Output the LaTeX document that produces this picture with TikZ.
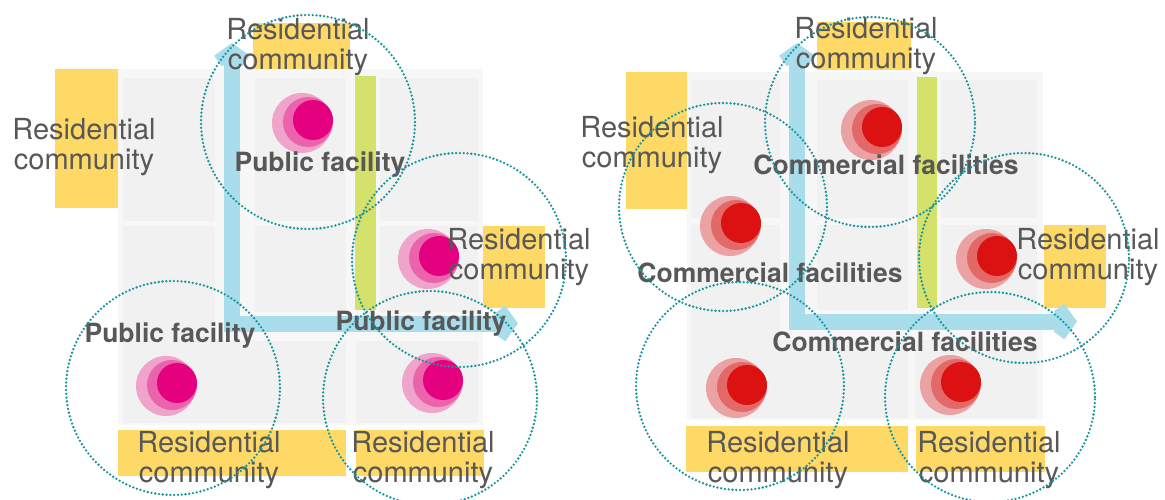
\documentclass[tikz,border=0pt]{standalone}
\usepackage{fontspec}
\setmainfont{TeX Gyre Heros}
\usepackage{xcolor}
\usepackage{tikz}

\definecolor{panelgray}{HTML}{F7F7F7}
\definecolor{cellgray}{HTML}{F1F1F1}
\definecolor{yardyellow}{HTML}{FFD966}
\definecolor{beltgreen}{HTML}{D4E16A}
\definecolor{roadblue}{HTML}{A9DDEB}
\definecolor{labelgray}{HTML}{585858}
\definecolor{ringteal}{HTML}{17959E}
\definecolor{pinkout}{HTML}{F0A3CB}
\definecolor{pinkmid}{HTML}{EA63AB}
\definecolor{pinkin}{HTML}{E4007F}
\definecolor{redout}{HTML}{EBA2A2}
\definecolor{redmid}{HTML}{E36969}
\definecolor{redin}{HTML}{DC1111}

\begin{document}
\begin{tikzpicture}[x=1pt, y=-1pt,
    panel/.style={fill=panelgray},
    cell/.style={fill=cellgray},
    yard/.style={fill=yardyellow},
    belt/.style={fill=beltgreen},
    road/.style={draw=roadblue, line width=16pt, line join=miter},
    roadhead/.style={draw=roadblue, line width=13pt, line join=miter},
    resi/.style={text=labelgray, align=center, inner sep=0pt,
        font=\fontsize{29}{30}\selectfont},
    facil/.style={text=labelgray, align=center, inner sep=0pt,
        font=\bfseries\fontsize{26.5}{28}\selectfont},
    ring/.style={draw=ringteal, line width=2.6pt, dash pattern=on 0pt off 3.8pt,
        line cap=round}]

\useasboundingbox (0,0) rectangle (1165,499);

% ---- left: public facilities ----
\fill[panel] (118,69) rectangle (483,425);
\fill[cell] (123,78) rectangle (215,221);
\fill[cell] (255,78) rectangle (346,221);
\fill[cell] (380,78) rectangle (478,221);
\fill[cell] (123,226) rectangle (215,423);
\fill[cell] (255,226) rectangle (346,312);
\fill[cell] (380,226) rectangle (478,312);
\fill[cell] (215,341) rectangle (346,423);
\fill[cell] (356,341) rectangle (478,423);

\fill[yard] (253,23) rectangle (350,69);
\fill[yard] (55,69) rectangle (118,208);
\fill[yard] (483,226) rectangle (545,308);
\fill[yard] (118,430) rectangle (346,476);
\fill[yard] (356,430) rectangle (484,476);
\fill[belt] (355,76) rectangle (376,310);

\coordinate (lTop) at (232,58);
\coordinate (lBend) at (232,323.5);
\coordinate (lEnd) at (503,323.5);
\draw[road] (lTop) -- (lBend) -- (lEnd);
\draw[roadhead] (218,61) -- (232,51) -- (246,61);
\draw[roadhead] (500,309.5) -- (510,323.5) -- (500,337.5);

\foreach \cx/\cy in {302/123, 428/259, 166/386, 432/383} {
  \fill[pinkout] (\cx,\cy) circle (30pt);
  \fill[pinkmid] ([shift={(6,-1)}]\cx,\cy) circle (25pt);
  \fill[pinkin] ([shift={(11,-3)}]\cx,\cy) circle (20pt);
}

\node[resi] (resTopL) at (298,47) {Residential\\community};
\node[resi] (resWestL) at (84,147) {Residential\\community};
\node[resi] (resEastL) at (519,257) {Residential\\community};
\node[resi] (resSwL) at (209,460) {Residential\\community};
\node[resi] (resSeL) at (423,460) {Residential\\community};

\node[facil] (pubTop) at (320,165) {Public facility};
\node[facil] (pubWest) at (170,336) {Public facility};
\node[facil] (pubEast) at (421,324) {Public facility};

\foreach \cx/\cy in {308/122, 459/260, 173/388, 430/398}
  \draw[ring] (\cx,\cy) circle (107pt);

% ---- right: commercial facilities ----
\fill[panel] (687,72) rectangle (1043,420);
\fill[cell] (691,80) rectangle (780,218);
\fill[cell] (817,80) rectangle (908,218);
\fill[cell] (941,80) rectangle (1037,218);
\fill[cell] (691,225) rectangle (780,418);
\fill[cell] (817,225) rectangle (908,310);
\fill[cell] (941,225) rectangle (1037,310);
\fill[cell] (780,340) rectangle (908,418);
\fill[cell] (915,340) rectangle (1037,418);

\fill[yard] (817,22) rectangle (911,70);
\fill[yard] (626,72) rectangle (687,209);
\fill[yard] (1044,225) rectangle (1106,308);
\fill[yard] (686,426) rectangle (908,472);
\fill[yard] (916,426) rectangle (1045,472);
\fill[belt] (917,77) rectangle (937,308);

\coordinate (rTop) at (797,58);
\coordinate (rBend) at (797,321.5);
\coordinate (rEnd) at (1061,321.5);
\draw[road] (rTop) -- (rBend) -- (rEnd);
\draw[roadhead] (783,61) -- (797,51) -- (811,61);
\draw[roadhead] (1059,307.5) -- (1069,321.5) -- (1059,335.5);

\foreach \cx/\cy in {871/130, 730/226, 986/259, 736/388, 950/385} {
  \fill[redout] (\cx,\cy) circle (30pt);
  \fill[redmid] ([shift={(6,-1)}]\cx,\cy) circle (25pt);
  \fill[redin] ([shift={(11,-3)}]\cx,\cy) circle (20pt);
}

\node[resi] (resTopR) at (866,46) {Residential\\community};
\node[resi] (resWestR) at (652,145) {Residential\\community};
\node[resi] (resEastR) at (1088,257) {Residential\\community};
\node[resi] (resSwR) at (778,460) {Residential\\community};
\node[resi] (resSeR) at (989,460) {Residential\\community};

\node[facil] (comTop) at (886,165) {Commercial facilities};
\node[facil] (comWest) at (770,273) {Commercial facilities};
\node[facil] (comSouth) at (905,342) {Commercial facilities};

\foreach \cx/\cy/\rr in {870/122/105, 723/207/104, 1024/258/105, 740/386/104, 990/397/105}
  \draw[ring] (\cx,\cy) circle (\rr pt);

\end{tikzpicture}
\end{document}
